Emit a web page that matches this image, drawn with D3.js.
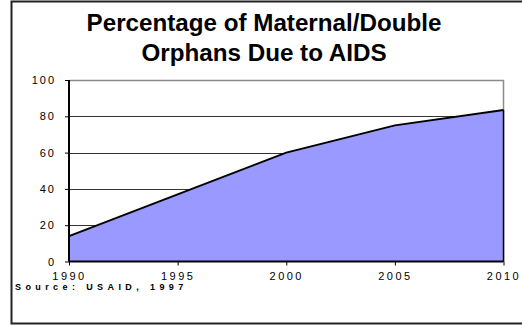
<!DOCTYPE html>
<html>
    <head>
        <meta charset="utf-8">
        <script src="https://d3js.org/d3.v7.min.js"></script>
        <title>Orphans due to AIDS</title>
    </head>
    <body>
        <div id="chart"></div>
    </body>
    <style>
        body { margin: 0; background: #fff; }
        svg { display: block; font-family: "Liberation Sans", Arial, sans-serif; }
    </style>
    <script>
        // data
        var years = [1990, 1995, 2000, 2005, 2010];
        var percent = [14, 37, 60, 75, 83.5];
        var yTicks = [0, 20, 40, 60, 80, 100];
        var titleLines = ["Percentage of Maternal/Double", "Orphans Due to AIDS"];
        var source = "Source: USAID, 1997";

        var W = 522, H = 326;
        var plot = {left: 69, right: 503.5, top: 80, bottom: 261.5};

        var svg = d3.select("#chart").append("svg")
            .attr("width", W)
            .attr("height", H);

        // outer frame (no right edge)
        svg.append("path")
            .attr("d", "M522,1.5 H11.5 V323.5 H522")
            .attr("fill", "none")
            .attr("stroke", "#222")
            .attr("stroke-width", 2);

        // title
        svg.append("g").selectAll("text")
            .data(titleLines)
            .enter().append("text")
            .attr("x", 264)
            .attr("y", function(d, i) { return 31 + i * 29.5; })
            .attr("text-anchor", "middle")
            .attr("font-size", 24.2)
            .attr("font-weight", "bold")
            .attr("fill", "#000")
            .text(function(d) { return d; });

        var x = d3.scaleLinear()
            .domain([1990, 2010])
            .range([plot.left, plot.right]);

        var y = d3.scaleLinear()
            .domain([0, 100])
            .range([plot.bottom, plot.top]);

        // gridlines
        svg.append("g").selectAll("line")
            .data(yTicks.filter(function(d) { return d > 0 && d < 100; }))
            .enter().append("line")
            .attr("x1", plot.left).attr("x2", plot.right)
            .attr("y1", function(d) { return Math.round(y(d)) + 0.5; })
            .attr("y2", function(d) { return Math.round(y(d)) + 0.5; })
            .attr("stroke", "#333")
            .attr("stroke-width", 1);

        // plot border top/right in gray
        svg.append("path")
            .attr("d", "M" + plot.left + "," + (plot.top + 0.5) + " H" + plot.right + " V" + plot.bottom)
            .attr("fill", "none")
            .attr("stroke", "#8c8c8c")
            .attr("stroke-width", 1.5);

        var pts = years.map(function(d, i) { return [d, percent[i]]; });

        // area
        svg.append("path")
            .datum(pts)
            .attr("d", d3.area()
                .x(function(d) { return x(d[0]); })
                .y0(y(0))
                .y1(function(d) { return y(d[1]); }))
            .attr("fill", "#9999ff")
            .attr("stroke", "none");

        // line on top
        svg.append("path")
            .datum(pts)
            .attr("d", d3.line()
                .x(function(d) { return x(d[0]); })
                .y(function(d) { return y(d[1]); }))
            .attr("fill", "none")
            .attr("stroke", "#000")
            .attr("stroke-width", 2);

        // right edge of the area
        svg.append("line")
            .attr("x1", x(2010)).attr("x2", x(2010))
            .attr("y1", y(percent[percent.length - 1])).attr("y2", y(0))
            .attr("stroke", "#000")
            .attr("stroke-width", 1.5);

        // y axis
        var yAxis = svg.append("g")
            .attr("transform", "translate(" + plot.left + ",0)")
            .call(d3.axisLeft(y).tickValues(yTicks).tickSize(4).tickPadding(9));
        yAxis.select(".domain").attr("stroke", "#000").attr("stroke-width", 2)
            .attr("d", "M0," + plot.top + "V" + plot.bottom);
        yAxis.selectAll(".tick line").attr("stroke", "#000");
        yAxis.selectAll("text")
            .attr("font-size", 11)
            .attr("font-family", "Liberation Sans, Arial, sans-serif")
            .attr("letter-spacing", 2)
            .attr("fill", "#000");

        // x axis
        var xAxis = svg.append("g")
            .attr("transform", "translate(0," + plot.bottom + ")")
            .call(d3.axisBottom(x).tickValues(years).tickFormat(d3.format("d")).tickSize(4).tickPadding(7));
        xAxis.select(".domain").attr("stroke", "#000").attr("stroke-width", 2)
            .attr("d", "M" + plot.left + ",0H" + plot.right);
        xAxis.selectAll(".tick line").attr("stroke", "#000");
        xAxis.selectAll("text")
            .attr("font-size", 11)
            .attr("font-family", "Liberation Sans, Arial, sans-serif")
            .attr("letter-spacing", 2.5)
            .attr("fill", "#000");

        // source note
        svg.append("text")
            .attr("x", 15)
            .attr("y", 289.5)
            .attr("font-size", 9)
            .attr("font-weight", "bold")
            .attr("letter-spacing", 4.4)
            .attr("fill", "#000")
            .text(source);
    </script>
</html>
